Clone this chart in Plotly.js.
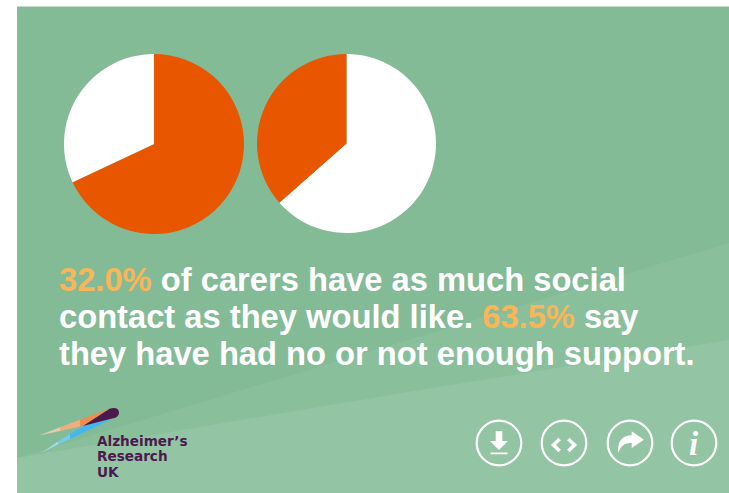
<!DOCTYPE html>
<html>
<head>
<meta charset="utf-8">
<script src="https://cdn.plot.ly/plotly-3.0.1.min.js"></script>
<style>
html,body{margin:0;padding:0;background:#fff;overflow:hidden}
#chart{width:729px;height:493px}
</style>
</head>
<body>
<div id="chart"></div>
<script>
// Survey shares, in percent
var socialContactLabels = ['Less social contact than they would like', 'As much social contact as they would like'];
var socialContactValues = [68.0, 32.0];
var supportLabels = ['No or not enough support', 'Other'];
var supportValues = [63.5, 36.5];

var ORANGE = '#E85600';
var WHITE = '#FFFFFF';
var HIGHLIGHT = '#F9B659';
var PURPLE = '#4A1A4F';

var W = 729, H = 493;
var fx = function (x) { return x / W; };
var fy = function (y) { return 1 - y / H; };

// Converts an SVG-style path written in page pixels to paper coordinates
function path(d) {
  return d.replace(/(-?[\d.]+),(-?[\d.]+)/g, function (m, x, y) {
    return fx(+x).toFixed(5) + ',' + fy(+y).toFixed(5);
  });
}
// Same, for a path written relative to an icon centre
function iconPath(cx, cy, d) {
  return d.replace(/(-?[\d.]+),(-?[\d.]+)/g, function (m, x, y) {
    return fx(cx + (+x)).toFixed(5) + ',' + fy(cy + (+y)).toFixed(5);
  });
}
function filled(d, color) {
  return {type: 'path', xref: 'paper', yref: 'paper', path: d, fillcolor: color, line: {width: 0}, layer: 'below'};
}
function stroked(d, color, width) {
  return {type: 'path', xref: 'paper', yref: 'paper', path: d, fillcolor: 'rgba(0,0,0,0)', line: {color: color, width: width}, layer: 'below'};
}
function ring(cx, cy, r) {
  return {type: 'circle', xref: 'paper', yref: 'paper', x0: fx(cx - r), x1: fx(cx + r), y0: fy(cy + r), y1: fy(cy - r),
    fillcolor: 'rgba(0,0,0,0)', line: {color: WHITE, width: 2.2}, layer: 'below'};
}

var shapes = [
  // Panel and its two lighter diagonal bands
  filled(path('M17,7 L729,7 L729,493 L17,493 Z'), '#84BB97'),
  filled(path('M17,458 L729,243 L729,493 L17,493 Z'), '#8ABF9C'),
  filled(path('M17,458 L200,427 L420,390 L729,340 L729,493 L17,493 Z'), '#93C4A3'),
  stroked(path('M17,6.5 L729,6.5'), '#C4DCCB', 1),

  // Logo swoosh: orange and blue tails fade toward their tips
  filled(path('M39,435.5 L60,427.2 L60,431 Z'), '#E3CDB0'),
  filled(path('M60,427.2 L80,419.7 L80,426.6 L60,431 Z'), '#EFAE80'),
  filled(path('M80,419.7 L110,408.5 L83,426 L80,426.6 Z'), '#F08C4C'),
  filled(path('M42,452.5 L58,441.4 L58,444.6 Z'), '#A8DCE4'),
  filled(path('M58,441.4 L70,434.1 L70,439 L58,444.6 Z'), '#74CCEA'),
  filled(path('M70,434.1 L83,426 L113,418.5 L80,434.2 L70,439 Z'), '#45B7F0'),
  filled(path('M83,426 L110,408.5 Q119,406.5 119,413 Q118.5,418 112,418.5 Z'), PURPLE),

  // Action icons
  ring(499, 443, 22.3),
  filled(iconPath(499, 443, 'M-3.3,-12 L3.3,-12 L3.3,-2 L9,-2 L0,7 L-9,-2 L-3.3,-2 Z'), WHITE),
  filled(iconPath(499, 443, 'M-8.5,9.5 L8.5,9.5 L8.5,11.3 L-8.5,11.3 Z'), WHITE),
  ring(564, 443, 22.3),
  stroked(iconPath(564, 445, 'M-4.3,-6 L-10.5,0 L-4.3,6'), WHITE, 3.6),
  stroked(iconPath(564, 445, 'M4.3,-6 L10.5,0 L4.3,6'), WHITE, 3.6),
  ring(630, 443, 22.3),
  filled(iconPath(630, 443, 'M14,-3.3 L1.7,-11.7 L1.7,-7.7 C-8,-7.7 -13,-1 -11.7,10 C-9,2 -5,0 1.7,0 L1.7,5 Z'), WHITE),
  ring(694, 443, 22.3)
];

function textAt(x, y, text, size, color, family, extra) {
  var a = {xref: 'paper', yref: 'paper', x: fx(x), y: fy(y), xanchor: 'left', yanchor: 'middle', align: 'left',
    showarrow: false, text: text, borderpad: 0,
    font: {family: family, size: size, color: color, weight: 700}};
  for (var k in extra) { a[k] = extra[k]; }
  return a;
}
function accent(value) {
  return '<span style="color:' + HIGHLIGHT + '">' + value.toFixed(1) + '%</span>';
}

var ARIAL = '"Liberation Sans", Arial, sans-serif';
var LOGO = '"DejaVu Sans", sans-serif';
var annotations = [
  textAt(58, 279, accent(socialContactValues[1]) + ' of carers have as much social', 32.7, WHITE, ARIAL),
  textAt(58, 316, 'contact as they would like. ' + accent(supportValues[0]) + ' say', 32.7, WHITE, ARIAL),
  textAt(58, 353.5, 'they have had no or not enough support.', 32.7, WHITE, ARIAL),
  textAt(96, 440.5, 'Alzheimer\u2019s', 13.6, PURPLE, LOGO),
  textAt(96, 456, 'Research', 13.6, PURPLE, LOGO),
  textAt(96, 471.5, 'UK', 13.6, PURPLE, LOGO),
  textAt(694, 444, '<i>i</i>', 33, WHITE, '"Liberation Serif", serif', {xanchor: 'center'})
];

var common = {type: 'pie', sort: false, direction: 'clockwise', rotation: 0, textinfo: 'none', hoverinfo: 'label+percent', showlegend: false};
function pie(labels, values, colors, x0, x1, y0, y1) {
  return Object.assign({}, common, {
    labels: labels, values: values,
    marker: {colors: colors, line: {width: 0}},
    domain: {x: [fx(x0), fx(x1)], y: [fy(y1), fy(y0)]}
  });
}

var traces = [
  pie(socialContactLabels, socialContactValues, [ORANGE, WHITE], 64, 244, 54, 234),
  pie(supportLabels, supportValues, [WHITE, ORANGE], 257, 436, 54, 233)
];

Plotly.newPlot('chart', traces, {
  width: W, height: H,
  margin: {l: 0, r: 0, t: 0, b: 0},
  paper_bgcolor: '#FFFFFF',
  shapes: shapes,
  annotations: annotations
}, {displayModeBar: false, staticPlot: true});
</script>
</body>
</html>
